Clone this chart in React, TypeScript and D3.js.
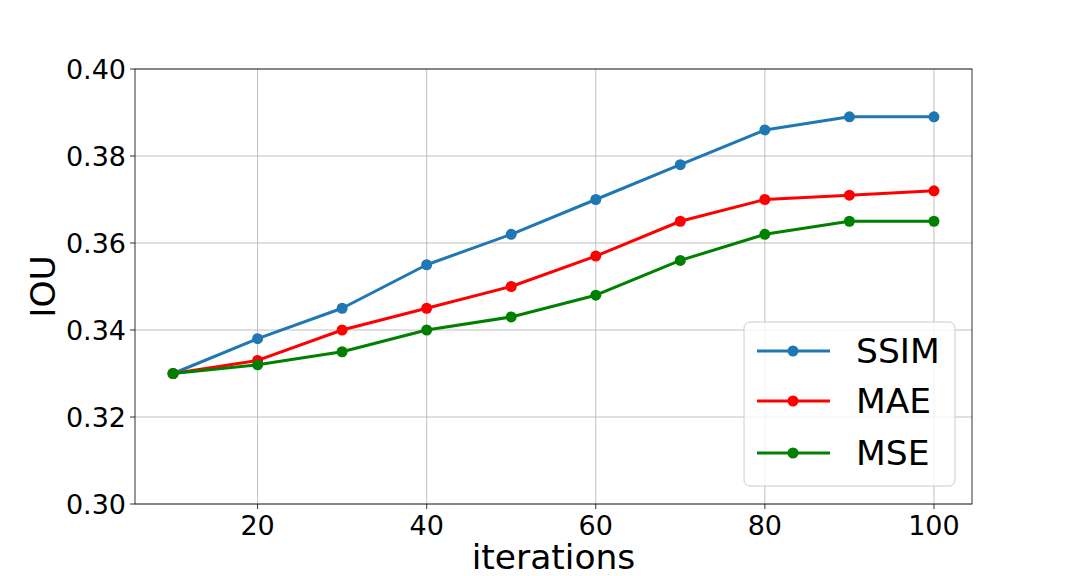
import React from "react";
import * as d3 from "d3";

const iterations = [10, 20, 30, 40, 50, 60, 70, 80, 90, 100];
const ssim = [0.33, 0.338, 0.345, 0.355, 0.362, 0.37, 0.378, 0.386, 0.389, 0.389];
const mae = [0.33, 0.333, 0.34, 0.345, 0.35, 0.357, 0.365, 0.37, 0.371, 0.372];
const mse = [0.33, 0.332, 0.335, 0.34, 0.343, 0.348, 0.356, 0.362, 0.365, 0.365];
const seriesNames = ["SSIM", "MAE", "MSE"];
const seriesColors = ["#1f77b4", "#ff0000", "#008000"];
const xTicks = [20, 40, 60, 80, 100];
const yTicks = [0.3, 0.32, 0.34, 0.36, 0.38, 0.4];

export default function App() {
  const W = 1080, H = 576;
  const L = 135, R = 972, T = 69, B = 504;
  const x = d3.scaleLinear().domain([5.5, 104.5]).range([L, R]);
  const y = d3.scaleLinear().domain([0.3, 0.4]).range([B, T]);
  const series = [ssim, mae, mse];
  const line = d3.line<number>().x((_, i) => x(iterations[i])).y((d) => y(d));
  const font = "DejaVu Sans, sans-serif";
  const legY = [351, 401, 453];
  return (
    <svg width={W} height={H} style={{ position: "absolute", left: 0, top: 0 }} fontFamily={font}>
      <rect width={W} height={H} fill="#fff" />
      {xTicks.map((t) => (
        <line key={"gx" + t} x1={x(t)} x2={x(t)} y1={T} y2={B} stroke="#b0b0b0" strokeWidth={0.8} />
      ))}
      {yTicks.map((t) => (
        <line key={"gy" + t} x1={L} x2={R} y1={y(t)} y2={y(t)} stroke="#b0b0b0" strokeWidth={0.8} />
      ))}
      {series.map((s, k) => (
        <g key={k}>
          <path d={line(s) || ""} fill="none" stroke={seriesColors[k]} strokeWidth={3} strokeLinejoin="round" />
          {s.map((v, i) => (
            <circle key={i} cx={x(iterations[i])} cy={y(v)} r={5.5} fill={seriesColors[k]} />
          ))}
        </g>
      ))}
      <rect x={L} y={T} width={R - L} height={B - T} fill="none" stroke="#000" strokeWidth={0.8} />
      {xTicks.map((t) => (
        <g key={"tx" + t}>
          <line x1={x(t)} x2={x(t)} y1={B} y2={B + 5} stroke="#000" strokeWidth={0.8} />
          <text x={x(t)} y={B + 31} textAnchor="middle" fontSize={27}>{t}</text>
        </g>
      ))}
      {yTicks.map((t) => (
        <g key={"ty" + t}>
          <line x1={L - 5} x2={L} y1={y(t)} y2={y(t)} stroke="#000" strokeWidth={0.8} />
          <text x={L - 9} y={y(t) + 10} textAnchor="end" fontSize={27}>{t.toFixed(2)}</text>
        </g>
      ))}
      <text x={(L + R) / 2} y={569} textAnchor="middle" fontSize={34.5}>iterations</text>
      <text transform={`translate(55, ${(T + B) / 2}) rotate(-90)`} textAnchor="middle" fontSize={34.5}>IOU</text>
      <rect x={744} y={322} width={211} height={164} rx={6} fill="#fff" fillOpacity={0.8} stroke="#cccccc" strokeWidth={1} />
      {seriesNames.map((n, k) => (
        <g key={n}>
          <line x1={757} x2={830} y1={legY[k]} y2={legY[k]} stroke={seriesColors[k]} strokeWidth={3} />
          <circle cx={793} cy={legY[k]} r={5.5} fill={seriesColors[k]} />
          <text x={856} y={legY[k] + 12} fontSize={34.5}>{n}</text>
        </g>
      ))}
    </svg>
  );
}
